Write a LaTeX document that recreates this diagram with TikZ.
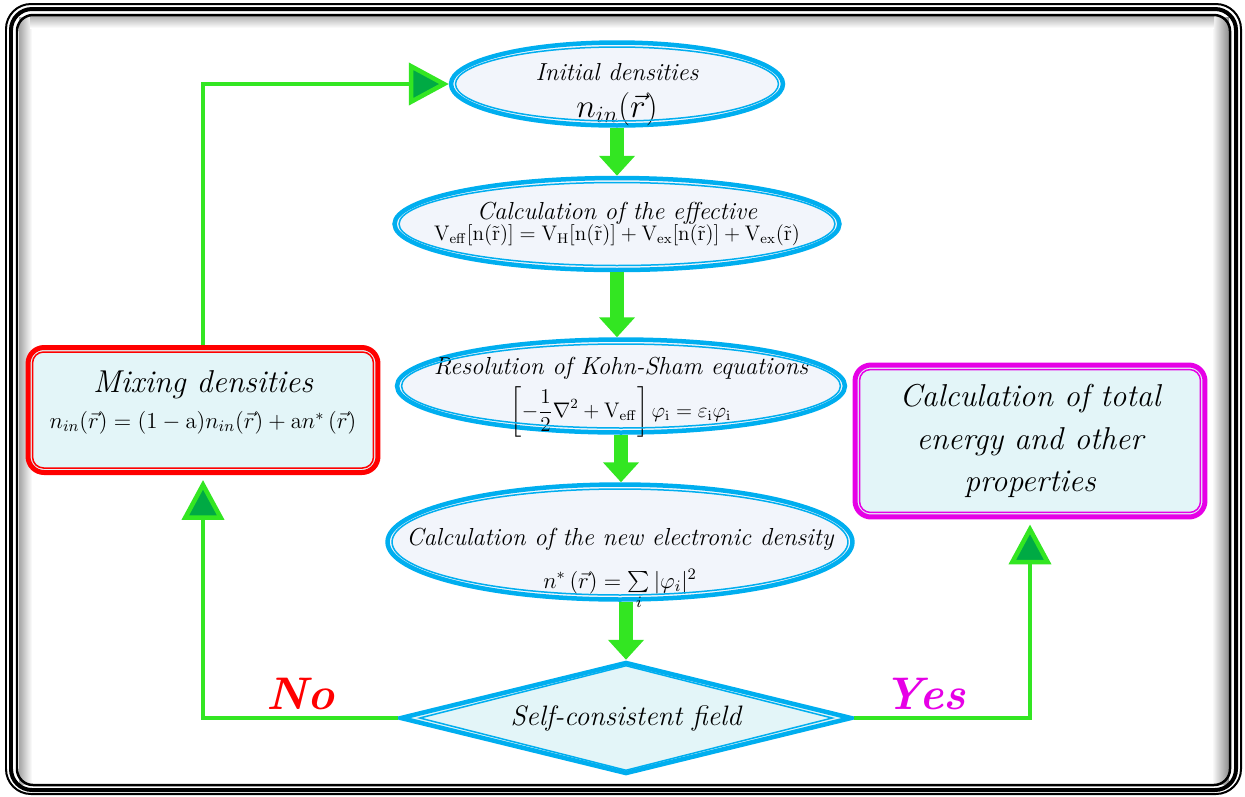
\documentclass[tikz,border=0pt]{standalone}
\usepackage{fix-cm}
\usepackage{amsmath}
\usetikzlibrary{arrows.meta,shapes.geometric,calc}

\definecolor{skyln}{RGB}{0,174,239}
\definecolor{ellfill}{RGB}{242,245,251}
\definecolor{boxfill}{RGB}{227,245,248}
\definecolor{lgreen}{RGB}{51,230,34}
\definecolor{hgreen}{RGB}{0,170,68}
\definecolor{mag}{RGB}{230,0,230}

\begin{document}
\begin{tikzpicture}[x=0.02cm,y=-0.02cm,
	ell/.style={ellipse, draw=skyln, line width=0.09cm, fill=ellfill, inner sep=-1.2cm, align=center},
	rbox/.style={rectangle, rounded corners=0.32cm, line width=0.1cm, fill=boxfill, inner sep=0pt, align=center},
	blk/.style={lgreen, line width=0.28cm, -{Triangle[width=0.7cm,length=0.4cm]}},
	conn/.style={lgreen, line width=0.09cm, -{Triangle[width=0.84cm,length=0.8cm,fill=hgreen]}},
	yesno/.style={font=\fontsize{26}{30}\selectfont\bfseries\itshape}]

\useasboundingbox (0,0) rectangle (1245,796);

\def\fsA{\fontsize{14}{17}\selectfont\itshape}
\def\fsB{\fontsize{12}{15}\selectfont}

% frame with inner shadow
\shade[left color=black!35, right color=white] (19,17) rectangle (32,784);
\shade[left color=white, right color=black!45] (1212,17) rectangle (1229,784);
\shade[top color=black!30, bottom color=white] (30,16) rectangle (1214,28);
\draw[line width=0.04cm, rounded corners=0.5cm] (6,4) rectangle (1241,794);
\draw[line width=0.08cm, rounded corners=0.42cm] (11,9) rectangle (1236,790);
\draw[line width=0.05cm, rounded corners=0.32cm] (17,15) rectangle (1230,785);

% the loop
\node[ell, minimum width=6.64cm, minimum height=1.66cm] (init) at (617,84)
	{{\fsA\rule{0pt}{22pt}Initial densities}\\[6pt] {\fontsize{19}{21}\selectfont $n_{in}(\vec{r})$}};
\node[ell, minimum width=8.9cm, minimum height=1.84cm] (veff) at (617,224)
	{{\fsA Calculation of the effective}\\ {\fsB $\mathrm{V_{eff}[n(\vec{r})] = V_H[n(\vec{r})] + V_{ex}[n(\vec{r})] + V_{ex}(\vec{r})}$}};
\node[ell, minimum width=8.96cm, minimum height=1.86cm] (ks) at (621,386)
	{{\fsA\rule{0pt}{23pt}Resolution of Kohn-Sham equations}\\[3pt] {\fsB $\displaystyle\left[-\frac{1}{2}\nabla^2+\mathrm{V_{eff}}\right]\varphi_{\mathrm{i}} = \varepsilon_{\mathrm{i}}\varphi_{\mathrm{i}}$}};
\node[ell, minimum width=9.3cm, minimum height=2.3cm] (dens) at (620,542)
	{{\fsA\rule{0pt}{40pt}Calculation of the new electronic density}\\[10pt] {\fontsize{13}{15}\selectfont $n^{*}\,(\vec{r}) = \sum\limits_{i}|\varphi_i|^2$}};
\node[diamond, aspect=4, draw=skyln, line width=0.09cm, fill=boxfill, inner sep=0pt,
	minimum width=9.04cm, minimum height=2.24cm] (scf) at (626,718)
	{\fontsize{16}{19}\selectfont\itshape Self-consistent field};

\node[rbox, draw=red, minimum width=7.0cm, minimum height=2.5cm] (mix) at (203,410)
	{{\fontsize{18}{21}\selectfont\itshape Mixing densities}\\[6pt]
	 {\fontsize{13}{15}\selectfont $n_{in}(\vec{r}) = (1-\mathrm{a})n_{in}(\vec{r}) + \mathrm{a}n^{*}\,(\vec{r})$\rule[-12pt]{0pt}{12pt}}};
\node[rbox, draw=mag, minimum width=7.0cm, minimum height=3.04cm,
	font=\fontsize{18}{24}\selectfont\itshape] (total) at (1030,441)
	{Calculation of total\\ energy and other\\ properties};

% inner outlines
\foreach \nm in {init,veff,ks,dens}{
	\draw[skyln, line width=0.03cm] let \p1=($(\nm.east)-(\nm.center)$), \p2=($(\nm.north)-(\nm.center)$) in
		(\nm.center) ellipse [x radius=\x1-0.135cm, y radius=\y2-0.135cm];
}
\draw[skyln, line width=0.03cm] ($(scf.west)+(22,0)$) -- ($(scf.north)+(0,6)$)
	-- ($(scf.east)+(-22,0)$) -- ($(scf.south)+(0,-6)$) -- cycle;
\foreach \nm/\c in {mix/red,total/mag}{
	\draw[\c, line width=0.03cm, rounded corners=0.22cm]
		($(\nm.south west)+(0.14cm,0.14cm)$) rectangle ($(\nm.north east)+(-0.14cm,-0.14cm)$);
}

% arrows
\draw[blk] (init.south) -- (init.south |- veff.north);
\draw[blk] (veff.south) -- (veff.south |- ks.north);
\draw[blk] (ks.south) -- (ks.south |- dens.north);
\draw[blk] (scf.north |- dens.south) -- (scf.north);

\draw[conn, shorten >=0.1cm] (scf.west) -| node[pos=0.25, above, red, yesno] (no) {No} (mix.south);
\draw[conn] (mix.north) |- (init.west);
\draw[conn, shorten >=0.1cm] (scf.east) -| node[pos=0.2, above, mag, yesno] (yes) {Yes} (total.south);

\end{tikzpicture}
\end{document}
